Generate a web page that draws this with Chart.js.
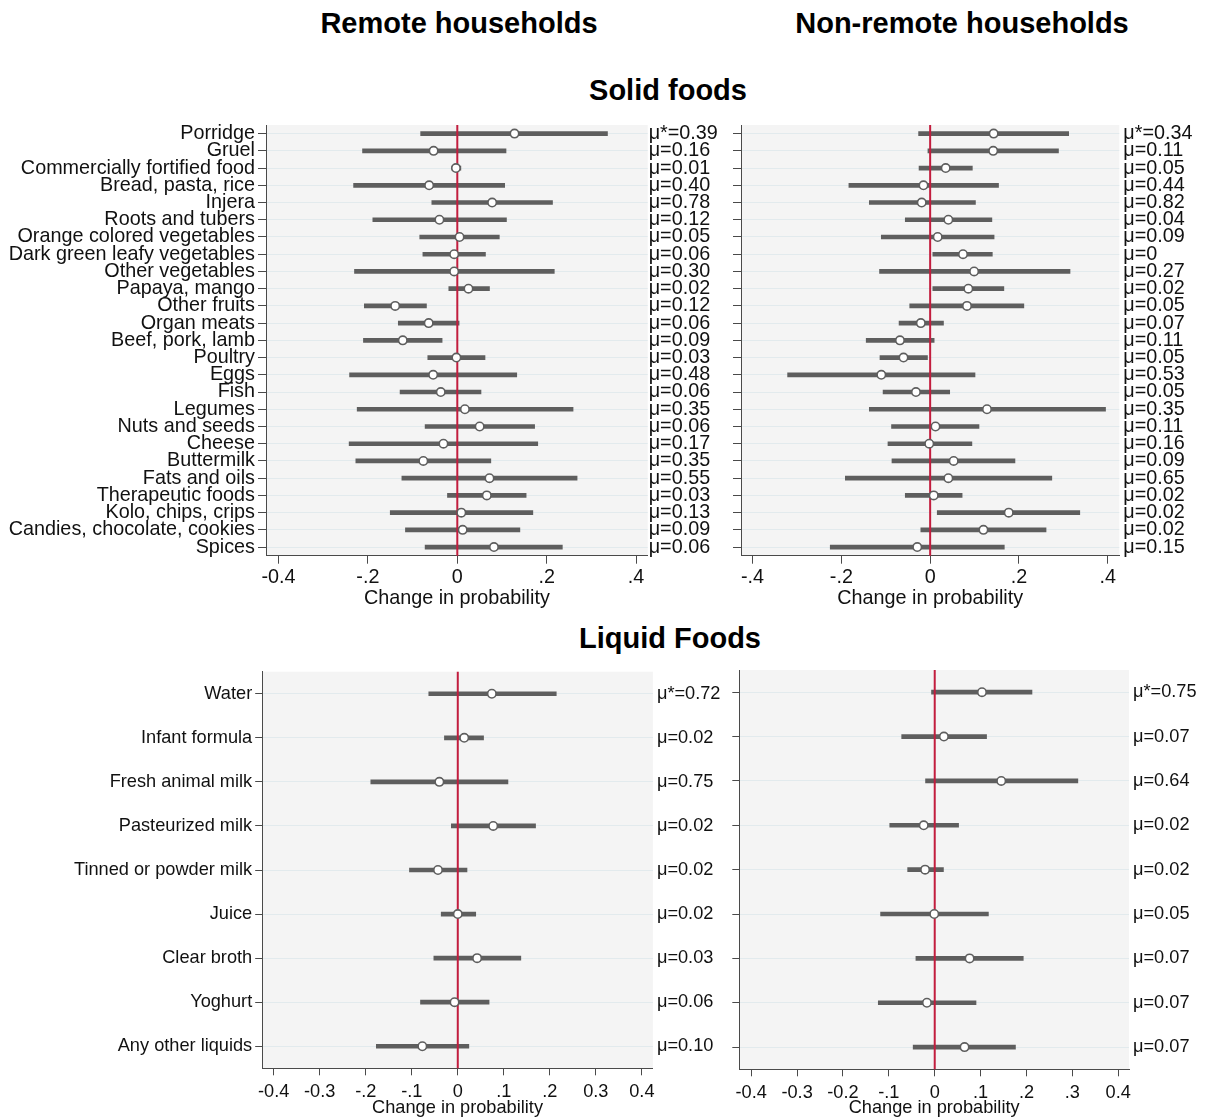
<!DOCTYPE html>
<html>
<head>
<meta charset="utf-8">
<script src="https://cdn.jsdelivr.net/npm/chart.js@4.4.1/dist/chart.umd.min.js"></script>
<style>
  body { margin: 0; width: 1211px; height: 1120px; background: #fff; position: relative; overflow: hidden; font-family: 'Liberation Sans', Arial, sans-serif; }
  canvas { position: absolute; }
  .head { position: absolute; font-weight: bold; font-size: 29px; line-height: 29px; text-align: center; color: #000; width: 500px; }
</style>
</head>
<body>
<div class="head" style="left:209px; top:9px;">Remote households</div>
<div class="head" style="left:712px; top:9px;">Non-remote households</div>
<div class="head" style="left:418px; top:76px;">Solid foods</div>
<div class="head" style="left:420px; top:624px;">Liquid Foods</div>

<canvas id="solidRemote" width="720" height="500" style="left:0; top:115px;"></canvas>
<canvas id="solidNonRemote" width="491" height="500" style="left:720px; top:115px;"></canvas>
<canvas id="liquidRemote" width="720" height="460" style="left:0; top:660px;"></canvas>
<canvas id="liquidNonRemote" width="491" height="460" style="left:720px; top:660px;"></canvas>

<script>
// categories
const solidFoods = ['Porridge', 'Gruel', 'Commercially fortified food', 'Bread, pasta, rice', 'Injera',
  'Roots and tubers', 'Orange colored vegetables', 'Dark green leafy vegetables', 'Other vegetables',
  'Papaya, mango', 'Other fruits', 'Organ meats', 'Beef, pork, lamb', 'Poultry', 'Eggs', 'Fish',
  'Legumes', 'Nuts and seeds', 'Cheese', 'Buttermilk', 'Fats and oils', 'Therapeutic foods',
  'Kolo, chips, crips', 'Candies, chocolate, cookies', 'Spices']
const liquidFoods = ['Water', 'Infant formula', 'Fresh animal milk', 'Pasteurized milk',
  'Tinned or powder milk', 'Juice', 'Clear broth', 'Yoghurt', 'Any other liquids']

// remote households, solid foods
const remoteSolidEst = [0.128, -0.053, -0.003, -0.063, 0.078, -0.040, 0.005, -0.007, -0.007, 0.025, -0.139, -0.064, -0.122,
  -0.002, -0.054, -0.037, 0.017, 0.050, -0.031, -0.076, 0.072, 0.066, 0.009, 0.012, 0.082]
const remoteSolidLo = [-0.082, -0.212, -0.012, -0.232, -0.057, -0.189, -0.084, -0.077, -0.230, -0.019, -0.208, -0.132, -0.210,
  -0.066, -0.241, -0.128, -0.224, -0.072, -0.242, -0.227, -0.124, -0.022, -0.150, -0.116, -0.072]
const remoteSolidHi = [0.336, 0.109, 0.008, 0.106, 0.213, 0.110, 0.094, 0.063, 0.217, 0.072, -0.069, 0.004, -0.034,
  0.062, 0.133, 0.053, 0.259, 0.173, 0.180, 0.075, 0.268, 0.154, 0.169, 0.140, 0.235]
const remoteSolidMu = ['μ*=0.39', 'μ=0.16', 'μ=0.01', 'μ=0.40', 'μ=0.78', 'μ=0.12', 'μ=0.05', 'μ=0.06', 'μ=0.30',
  'μ=0.02', 'μ=0.12', 'μ=0.06', 'μ=0.09', 'μ=0.03', 'μ=0.48', 'μ=0.06', 'μ=0.35', 'μ=0.06', 'μ=0.17', 'μ=0.35',
  'μ=0.55', 'μ=0.03', 'μ=0.13', 'μ=0.09', 'μ=0.06']

// non-remote households, solid foods
const nonRemoteSolidEst = [0.143, 0.142, 0.035, -0.015, -0.019, 0.041, 0.017, 0.074, 0.099, 0.086, 0.083, -0.021, -0.068,
  -0.060, -0.110, -0.032, 0.128, 0.012, -0.002, 0.053, 0.041, 0.008, 0.177, 0.120, -0.029]
const nonRemoteSolidLo = [-0.026, -0.005, -0.025, -0.183, -0.137, -0.056, -0.110, 0.006, -0.114, 0.006, -0.046, -0.070, -0.144,
  -0.113, -0.321, -0.106, -0.137, -0.087, -0.095, -0.086, -0.191, -0.056, 0.016, -0.021, -0.225]
const nonRemoteSolidHi = [0.312, 0.289, 0.095, 0.154, 0.102, 0.139, 0.144, 0.140, 0.315, 0.166, 0.211, 0.030, 0.009,
  -0.006, 0.101, 0.044, 0.395, 0.110, 0.094, 0.191, 0.274, 0.072, 0.337, 0.261, 0.167]
const nonRemoteSolidMu = ['μ*=0.34', 'μ=0.11', 'μ=0.05', 'μ=0.44', 'μ=0.82', 'μ=0.04', 'μ=0.09', 'μ=0', 'μ=0.27',
  'μ=0.02', 'μ=0.05', 'μ=0.07', 'μ=0.11', 'μ=0.05', 'μ=0.53', 'μ=0.05', 'μ=0.35', 'μ=0.11', 'μ=0.16', 'μ=0.09',
  'μ=0.65', 'μ=0.02', 'μ=0.02', 'μ=0.02', 'μ=0.15']

// remote households, liquid foods
const remoteLiquidEst = [0.074, 0.014, -0.040, 0.077, -0.043, 0.000, 0.042, -0.007, -0.077]
const remoteLiquidLo = [-0.063, -0.029, -0.189, -0.014, -0.105, -0.036, -0.052, -0.081, -0.177]
const remoteLiquidHi = [0.214, 0.056, 0.109, 0.169, 0.020, 0.039, 0.137, 0.068, 0.024]
const remoteLiquidMu = ['μ*=0.72', 'μ=0.02', 'μ=0.75', 'μ=0.02', 'μ=0.02', 'μ=0.02', 'μ=0.03', 'μ=0.06', 'μ=0.10']

// non-remote households, liquid foods
const nonRemoteLiquidEst = [0.103, 0.020, 0.145, -0.024, -0.021, -0.001, 0.076, -0.017, 0.065]
const nonRemoteLiquidLo = [-0.007, -0.072, -0.020, -0.098, -0.059, -0.118, -0.041, -0.123, -0.047]
const nonRemoteLiquidHi = [0.212, 0.113, 0.312, 0.052, 0.019, 0.117, 0.193, 0.090, 0.176]
const nonRemoteLiquidMu = ['μ*=0.75', 'μ=0.07', 'μ=0.64', 'μ=0.02', 'μ=0.02', 'μ=0.05', 'μ=0.07', 'μ=0.07', 'μ=0.07']

// tick labels
const solidTickValues = [-0.4, -0.2, 0, 0.2, 0.4]
const solidLeftTicks = ['-0.4', '-.2', '0', '.2', '.4']
const solidRightTicks = ['-.4', '-.2', '0', '.2', '.4']
const liquidTickValues = [-0.4, -0.3, -0.2, -0.1, 0, 0.1, 0.2, 0.3, 0.4]
const liquidLeftTicks = ['-0.4', '-0.3', '-.2', '-.1', '0', '.1', '.2', '0.3', '0.4']
const liquidRightTicks = ['-0.4', '-0.3', '-0.2', '-.1', '0', '.1', '.2', '.3', '0.4']

const FONT = "'Liberation Sans', Arial, sans-serif"
const whiskerColor = '#5e5e5e'
const axisColor = '#4a4a4a'

const plotBackground = {
  id: 'plotBackground',
  beforeDraw(chart) {
    const { ctx, chartArea } = chart
    ctx.save()
    ctx.fillStyle = '#f4f4f4'
    ctx.fillRect(chartArea.left, chartArea.top, chartArea.right - chartArea.left, chartArea.bottom - chartArea.top)
    ctx.restore()
  }
}

// red line at zero, drawn over the whiskers but under the markers
const zeroLine = {
  id: 'zeroLine',
  afterDatasetDraw(chart, args) {
    if (args.index !== 1) return
    const { ctx, chartArea, scales } = chart
    const x = scales.x.getPixelForValue(0)
    ctx.save()
    ctx.strokeStyle = '#c21d3e'
    ctx.lineWidth = 2
    ctx.beginPath()
    ctx.moveTo(x, chartArea.top)
    ctx.lineTo(x, chartArea.bottom)
    ctx.stroke()
    ctx.restore()
  }
}

// labels must not push the plot area around
function noPad(s) {
  s.paddingTop = 0
  s.paddingBottom = 0
  s.paddingLeft = 0
  s.paddingRight = 0
}

function panel(id, p) {
  const font = { family: FONT, size: p.fontSize }
  return new Chart(document.getElementById(id), {
    type: 'bar',
    data: {
      labels: p.labels,
      datasets: [
        {
          type: 'line',
          indexAxis: 'y',
          data: p.est,
          showLine: false,
          pointRadius: 4.2,
          pointBorderWidth: 1.6,
          pointBackgroundColor: '#ffffff',
          pointBorderColor: whiskerColor,
          order: 1
        },
        {
          type: 'bar',
          indexAxis: 'y',
          data: p.lo.map((v, i) => [v, p.hi[i]]),
          backgroundColor: whiskerColor,
          borderWidth: 0,
          barThickness: 4,
          order: 2
        }
      ]
    },
    options: {
      indexAxis: 'y',
      responsive: false,
      animation: false,
      layout: { padding: { top: p.top, left: 0, right: 0, bottom: 0 } },
      plugins: { legend: { display: false }, tooltip: { enabled: false } },
      scales: {
        x: {
          type: 'linear',
          min: p.xMin,
          max: p.xMax,
          afterBuildTicks: (s) => { s.ticks = p.tickValues.map((v) => ({ value: v })) },
          afterFit: (s) => { s.height = p.xHeight; noPad(s) },
          ticks: {
            callback: (v, i) => p.tickLabels[i],
            font: font,
            color: '#111',
            padding: p.xTickPad,
            maxRotation: 0,
            autoSkip: false
          },
          grid: { color: 'transparent', tickColor: axisColor, tickLength: p.tickLen },
          border: { color: axisColor, width: 1 },
          title: {
            display: true,
            text: 'Change in probability',
            font: font,
            color: '#111',
            padding: { top: 0, bottom: p.titlePad }
          }
        },
        y: {
          type: 'category',
          offset: true,
          afterFit: (s) => { s.width = p.yWidth; noPad(s) },
          ticks: { display: p.showLabels, font: font, color: '#111', padding: 3, autoSkip: false },
          grid: { offset: false, color: '#e2eaed', lineWidth: 1, tickColor: axisColor, tickLength: p.tickLen },
          border: { color: axisColor, width: 1 }
        },
        y2: {
          type: 'category',
          position: 'right',
          labels: p.mu,
          offset: true,
          afterFit: (s) => { s.width = p.y2Width; noPad(s) },
          ticks: { font: font, color: '#111', padding: p.muPad, autoSkip: false },
          grid: { display: false, drawTicks: false },
          border: { display: false }
        }
      }
    },
    plugins: [plotBackground, zeroLine]
  })
}

panel('solidRemote', {
  labels: solidFoods, est: remoteSolidEst, lo: remoteSolidLo, hi: remoteSolidHi, mu: remoteSolidMu,
  tickValues: solidTickValues, tickLabels: solidLeftTicks, xMin: -0.428, xMax: 0.426,
  fontSize: 19.8, showLabels: true, top: 10, yWidth: 266, y2Width: 72.3, xHeight: 59.3,
  tickLen: 8, xTickPad: 2, titlePad: 5, muPad: 1
})
panel('solidNonRemote', {
  labels: solidFoods, est: nonRemoteSolidEst, lo: nonRemoteSolidLo, hi: nonRemoteSolidHi, mu: nonRemoteSolidMu,
  tickValues: solidTickValues, tickLabels: solidRightTicks, xMin: -0.426, xMax: 0.426,
  fontSize: 19.8, showLabels: false, top: 10, yWidth: 21, y2Width: 91.7, xHeight: 59.3,
  tickLen: 8, xTickPad: 2, titlePad: 5, muPad: 4
})
panel('liquidRemote', {
  labels: liquidFoods, est: remoteLiquidEst, lo: remoteLiquidLo, hi: remoteLiquidHi, mu: remoteLiquidMu,
  tickValues: liquidTickValues, tickLabels: liquidLeftTicks, xMin: -0.425, xMax: 0.424,
  fontSize: 18.2, showLabels: true, top: 11.7, yWidth: 262.2, y2Width: 67.1, xHeight: 51.7,
  tickLen: 7, xTickPad: 6, titlePad: 1, muPad: 4
})
panel('liquidNonRemote', {
  labels: liquidFoods, est: nonRemoteLiquidEst, lo: nonRemoteLiquidLo, hi: nonRemoteLiquidHi, mu: nonRemoteLiquidMu,
  tickValues: liquidTickValues, tickLabels: liquidRightTicks, xMin: -0.426, xMax: 0.4235,
  fontSize: 18.2, showLabels: false, top: 10, yWidth: 19.3, y2Width: 82, xHeight: 50.7,
  tickLen: 7, xTickPad: 6, titlePad: 1, muPad: 4
})
</script>
</body>
</html>
